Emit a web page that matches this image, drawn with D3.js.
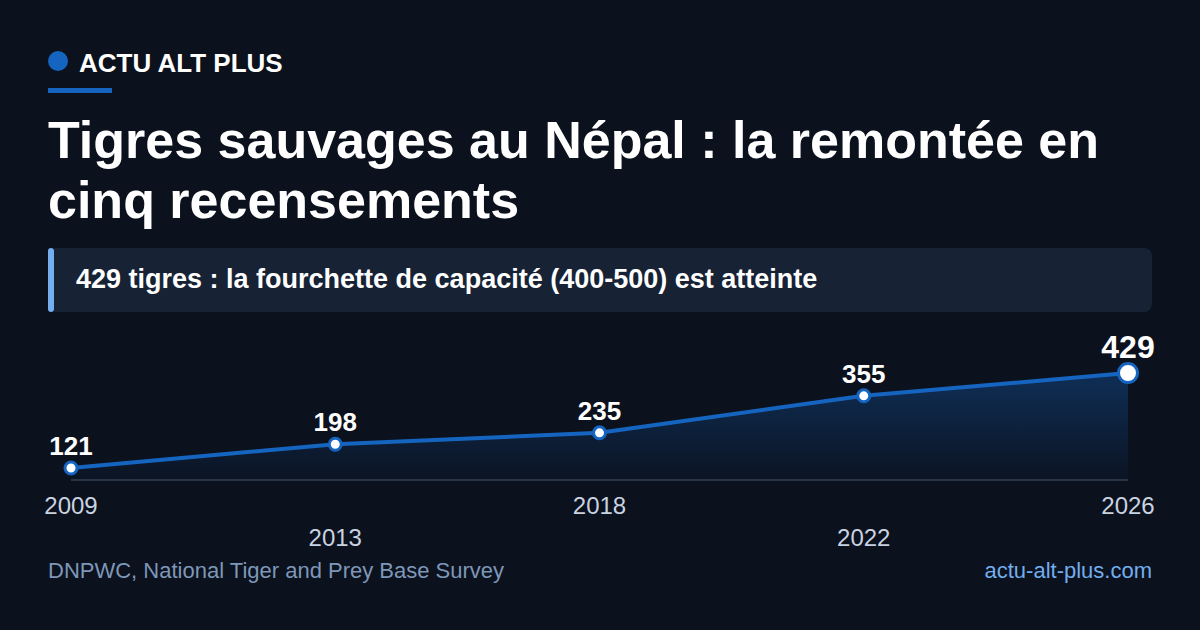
<!DOCTYPE html>
<html lang="fr">
<head>
  <meta charset="utf-8">
  <title>Tigres sauvages au Népal</title>
  <script src="https://d3js.org/d3.v7.min.js"></script>
  <style>
    html, body {
      margin: 0;
      padding: 0;
      background: #0b111d;
    }
    svg {
      display: block;
      font-family: "Liberation Sans", Arial, sans-serif;
    }
  </style>
</head>
<body>
  <div id="chart"></div>
  <script>
    // census data
    var years = ["2009", "2013", "2018", "2022", "2026"];
    var tigers = [121, 198, 235, 355, 429];

    var width = 1200, height = 630;
    var left = 71, right = 1128, base = 480;

    var svg = d3.select("#chart")
      .append("svg")
        .attr("width", width)
        .attr("height", height);

    svg.append("rect")
      .attr("width", width)
      .attr("height", height)
      .attr("fill", "#0b111d");

    // header
    svg.append("circle")
      .attr("cx", 58).attr("cy", 61).attr("r", 10)
      .attr("fill", "#1565c0");
    svg.append("text")
      .attr("x", 79).attr("y", 72)
      .attr("fill", "#ffffff")
      .attr("font-size", 26).attr("font-weight", "bold")
      .text("ACTU ALT PLUS");
    svg.append("rect")
      .attr("x", 48).attr("y", 88).attr("width", 64).attr("height", 5)
      .attr("fill", "#1565c0");

    var title = svg.append("text")
      .attr("fill", "#ffffff")
      .attr("font-size", 52).attr("font-weight", "bold");
    title.append("tspan").attr("x", 48).attr("y", 158)
      .text("Tigres sauvages au Népal : la remontée en");
    title.append("tspan").attr("x", 48).attr("y", 218)
      .text("cinq recensements");

    // subtitle box
    svg.append("rect")
      .attr("x", 48).attr("y", 248).attr("width", 1104).attr("height", 64)
      .attr("rx", 8)
      .attr("fill", "#172235");
    svg.append("rect")
      .attr("x", 48).attr("y", 248).attr("width", 6).attr("height", 64)
      .attr("rx", 3)
      .attr("fill", "#74aef0");
    svg.append("text")
      .attr("x", 76).attr("y", 288)
      .attr("fill", "#ffffff")
      .attr("font-size", 27).attr("font-weight", "bold")
      .text("429 tigres : la fourchette de capacité (400-500) est atteinte");

    // scales
    var x = d3.scalePoint().domain(years).range([left, right]);
    var y = d3.scaleLinear().domain([82, 429]).range([base, 373]);

    var data = years.map(function(d, i) { return {year: d, value: tigers[i]}; });

    var defs = svg.append("defs");
    var grad = defs.append("linearGradient")
      .attr("id", "areaGrad")
      .attr("x1", 0).attr("y1", 0).attr("x2", 0).attr("y2", 1);
    grad.append("stop").attr("offset", "0%")
      .attr("stop-color", "#1565c0").attr("stop-opacity", 0.35);
    grad.append("stop").attr("offset", "100%")
      .attr("stop-color", "#1565c0").attr("stop-opacity", 0.03);

    var area = d3.area()
      .x(function(d) { return x(d.year); })
      .y0(base)
      .y1(function(d) { return y(d.value); });

    var line = d3.line()
      .x(function(d) { return x(d.year); })
      .y(function(d) { return y(d.value); });

    svg.append("path")
      .datum(data)
      .attr("d", area)
      .attr("fill", "url(#areaGrad)");

    svg.append("line")
      .attr("x1", left).attr("x2", right)
      .attr("y1", base).attr("y2", base)
      .attr("stroke", "#2a3447").attr("stroke-width", 2);

    svg.append("path")
      .datum(data)
      .attr("d", line)
      .attr("fill", "none")
      .attr("stroke", "#1565c0")
      .attr("stroke-width", 4)
      .attr("stroke-linejoin", "round");

    var last = data.length - 1;

    svg.selectAll("circle.pt")
      .data(data)
      .enter()
      .append("circle")
        .attr("class", "pt")
        .attr("cx", function(d) { return x(d.year); })
        .attr("cy", function(d) { return y(d.value); })
        .attr("r", function(d, i) { return i == last ? 9.5 : 6; })
        .attr("fill", "#ffffff")
        .attr("stroke", "#1565c0")
        .attr("stroke-width", 3);

    svg.selectAll("text.val")
      .data(data)
      .enter()
      .append("text")
        .attr("class", "val")
        .attr("x", function(d) { return x(d.year); })
        .attr("y", function(d, i) { return y(d.value) - (i == last ? 15 : 13); })
        .attr("text-anchor", "middle")
        .attr("fill", "#ffffff")
        .attr("font-weight", "bold")
        .attr("font-size", function(d, i) { return i == last ? 32 : 26; })
        .text(function(d) { return d.value; });

    // year labels, staggered on two rows
    svg.selectAll("text.year")
      .data(years)
      .enter()
      .append("text")
        .attr("class", "year")
        .attr("x", function(d) { return x(d); })
        .attr("y", function(d, i) { return i % 2 ? 546 : 514; })
        .attr("text-anchor", "middle")
        .attr("fill", "#c9d3e1")
        .attr("font-size", 24)
        .text(function(d) { return d; });

    // footer
    svg.append("text")
      .attr("x", 48).attr("y", 578)
      .attr("fill", "#7e97b8")
      .attr("font-size", 22)
      .text("DNPWC, National Tiger and Prey Base Survey");
    svg.append("text")
      .attr("x", 1152).attr("y", 578)
      .attr("text-anchor", "end")
      .attr("fill", "#72aeee")
      .attr("font-size", 22)
      .text("actu-alt-plus.com");
  </script>
</body>
</html>
